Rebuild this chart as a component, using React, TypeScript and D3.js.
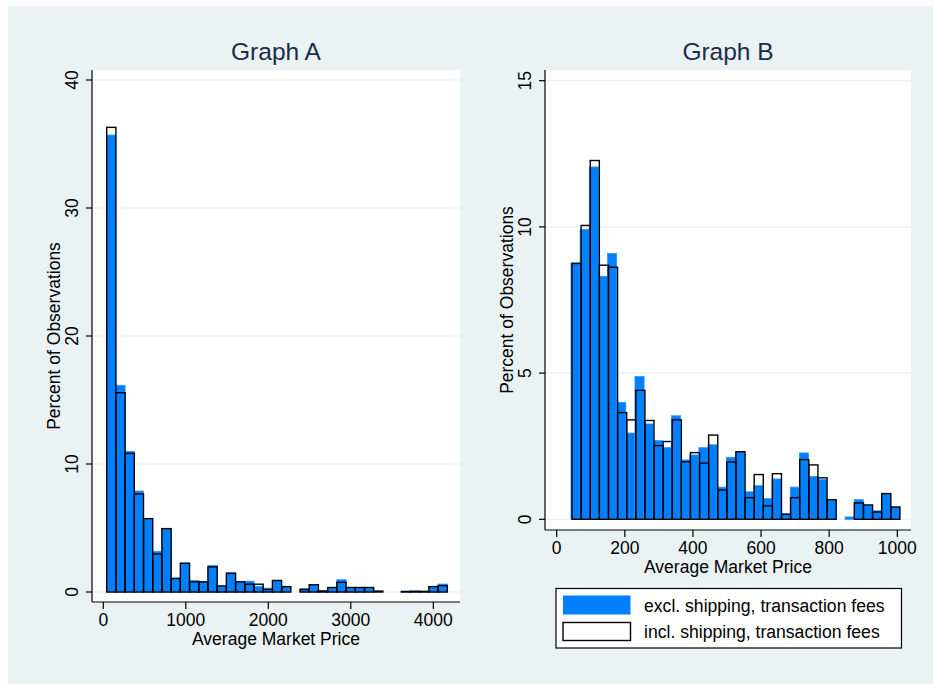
import React from "react";
import * as d3 from "d3";

// Graph A: all prices, 37 bins
const binsA = 37;
const startA = 41;
const endA = 4170;
const exclA = [35.7, 16.15, 10.99, 7.89, 5.7, 3.18, 4.95, 1.1, 2.27, 0.9, 0.82, 2.08, 0.46, 1.5, 0.82, 0.85, 0.45, 0.3, 0.9, 0.42, 0, 0.25, 0.57, 0.08, 0.35, 0.96, 0.35, 0.35, 0.35, 0, 0, 0, 0.06, 0.08, 0.05, 0.42, 0.62];
const inclA = [36.3, 15.57, 10.83, 7.66, 5.73, 2.97, 4.95, 1.05, 2.24, 0.8, 0.79, 1.96, 0.47, 1.46, 0.79, 0.61, 0.61, 0.2, 0.9, 0.42, 0, 0.2, 0.57, 0.08, 0.35, 0.76, 0.35, 0.35, 0.35, 0.07, 0, 0, 0.04, 0.05, 0.05, 0.42, 0.5];
const xTicksA = [0, 1000, 2000, 3000, 4000];
const yTicksA = [0, 10, 20, 30, 40];

// Graph B: prices up to 1000, 36 bins
const binsB = 36;
const startExclB = 42;
const startInclB = 45;
const endB = 1007.6;
const exclB = [8.77, 9.91, 12.05, 8.31, 9.09, 4.0, 2.95, 4.89, 3.26, 2.69, 2.45, 3.54, 2.03, 2.2, 2.45, 2.55, 1.1, 2.12, 2.31, 0.94, 1.15, 0.71, 1.38, 0.19, 1.1, 2.27, 1.47, 1.36, 0.65, 0, 0.08, 0.67, 0.48, 0.29, 0.88, 0.42];
const inclB = [8.75, 10.05, 12.27, 8.69, 8.62, 3.65, 3.4, 4.41, 3.38, 2.52, 2.66, 3.4, 1.97, 2.28, 1.92, 2.88, 1.0, 1.96, 2.31, 0.74, 1.53, 0.46, 1.56, 0.17, 0.74, 2.04, 1.86, 1.42, 0.67, 0, 0, 0.56, 0.49, 0.25, 0.88, 0.42];
const xTicksB = [0, 200, 400, 600, 800, 1000];
const yTicksB = [0, 5, 10, 15];

const legendLabels = ["excl. shipping, transaction fees", "incl. shipping, transaction fees"];

const FONT = "'Liberation Sans', Arial, sans-serif";
const BG = "#eaf2f3";
const BLUE = "#0080ff";

type PanelProps = {
  title: string;
  left: number; right: number; top: number; bottom: number;
  x: d3.ScaleLinear<number, number>;
  y: d3.ScaleLinear<number, number>;
  xTicks: number[]; yTicks: number[];
  excl: number[]; incl: number[];
  exclStart: number; inclStart: number; exclW: number; inclW: number;
};

function Panel(p: PanelProps) {
  const { x, y } = p;
  const cx = (p.left + p.right) / 2;
  const cy = (p.top + p.bottom) / 2;
  const bar = (v: number, i: number, s: number, w: number) => ({
    x0: x(s + i * w), x1: x(s + (i + 1) * w), y0: y(v), y1: y(0), v,
  });
  // empty bins are not drawn
  const blue = p.excl.map((v, i) => bar(v, i, p.exclStart, p.exclW)).filter(b => b.v > 0);
  const black = p.incl.map((v, i) => bar(v, i, p.inclStart, p.inclW)).filter(b => b.v > 0);
  return (
    <g>
      <text x={cx} y={60} textAnchor="middle" fontSize={24.5} fill="#1c2c4c">{p.title}</text>
      <rect x={p.left} y={p.top} width={p.right - p.left} height={p.bottom - p.top} fill="#fff" />
      {p.yTicks.map(t => (
        <line key={"g" + t} x1={p.left} x2={p.right} y1={y(t)} y2={y(t)} stroke={BG} strokeWidth={1.5} />
      ))}
      {blue.map((b, i) => (
        <rect key={"b" + i} x={b.x0} y={b.y0} width={b.x1 - b.x0} height={b.y1 - b.y0}
          fill={BLUE} stroke="#2a94ff" strokeWidth={0.8} />
      ))}
      {black.map((b, i) => (
        <rect key={"k" + i} x={b.x0} y={b.y0} width={b.x1 - b.x0} height={b.y1 - b.y0}
          fill="none" stroke="#000" strokeWidth={1.4} />
      ))}
      <line x1={p.left} x2={p.left} y1={p.top} y2={p.bottom} stroke="#000" strokeWidth={1.2} />
      <line x1={p.left} x2={p.right} y1={p.bottom} y2={p.bottom} stroke="#000" strokeWidth={1.2} />
      {p.yTicks.map(t => (
        <g key={"y" + t}>
          <line x1={p.left - 6} x2={p.left} y1={y(t)} y2={y(t)} stroke="#000" strokeWidth={1.2} />
          <text transform={`translate(${p.left - 14},${y(t)}) rotate(-90)`} textAnchor="middle"
            fontSize={17.5}>{t}</text>
        </g>
      ))}
      {p.xTicks.map(t => (
        <g key={"x" + t}>
          <line x1={x(t)} x2={x(t)} y1={p.bottom} y2={p.bottom + 7} stroke="#000" strokeWidth={1.2} />
          <text x={x(t)} y={p.bottom + 24} textAnchor="middle" fontSize={17.5}>{t}</text>
        </g>
      ))}
      <text x={cx} y={p.bottom + 43} textAnchor="middle" fontSize={17.5}>
        Average Market Price
      </text>
      <text transform={`translate(${p.left - 32},${cy}) rotate(-90)`} textAnchor="middle" fontSize={17.5}>
        Percent of Observations
      </text>
    </g>
  );
}

export default function App() {
  const xA = d3.scaleLinear().domain([0, 4000]).range([103.3, 433.3]);
  const yA = d3.scaleLinear().domain([0, 40]).range([592, 80]);
  const xB = d3.scaleLinear().domain([0, 1000]).range([556.7, 897.3]);
  const yB = d3.scaleLinear().domain([0, 15]).range([519.3, 80.7]);
  const wA = (endA - startA) / binsA;

  return (
    <svg width={933} height={684} style={{ position: "absolute", left: 0, top: 0 }} fontFamily={FONT}>
      <rect x={0} y={0} width={933} height={684} fill="#fff" />
      <rect x={8} y={6} width={925} height={678} fill={BG} />
      <Panel title="Graph A" left={92} right={460} top={70} bottom={602} x={xA} y={yA}
        xTicks={xTicksA} yTicks={yTicksA} excl={exclA} incl={inclA}
        exclStart={startA} inclStart={startA} exclW={wA} inclW={wA} />
      <Panel title="Graph B" left={545} right={911} top={70} bottom={530} x={xB} y={yB}
        xTicks={xTicksB} yTicks={yTicksB} excl={exclB} incl={inclB}
        exclStart={startExclB} inclStart={startInclB}
        exclW={(endB - startExclB) / binsB} inclW={(endB - startInclB) / binsB} />
      <g>
        <rect x={556} y={588.5} width={345.5} height={59.5} fill="#fff" stroke="#000" strokeWidth={1.2} />
        <rect x={563} y={595.5} width={67.5} height={19} fill={BLUE} />
        <rect x={563} y={622.5} width={67.5} height={18} fill="#fff" stroke="#000" strokeWidth={1.4} />
        <text x={644} y={611.5} fontSize={17.6}>{legendLabels[0]}</text>
        <text x={644} y={638} fontSize={17.6}>{legendLabels[1]}</text>
      </g>
    </svg>
  );
}
